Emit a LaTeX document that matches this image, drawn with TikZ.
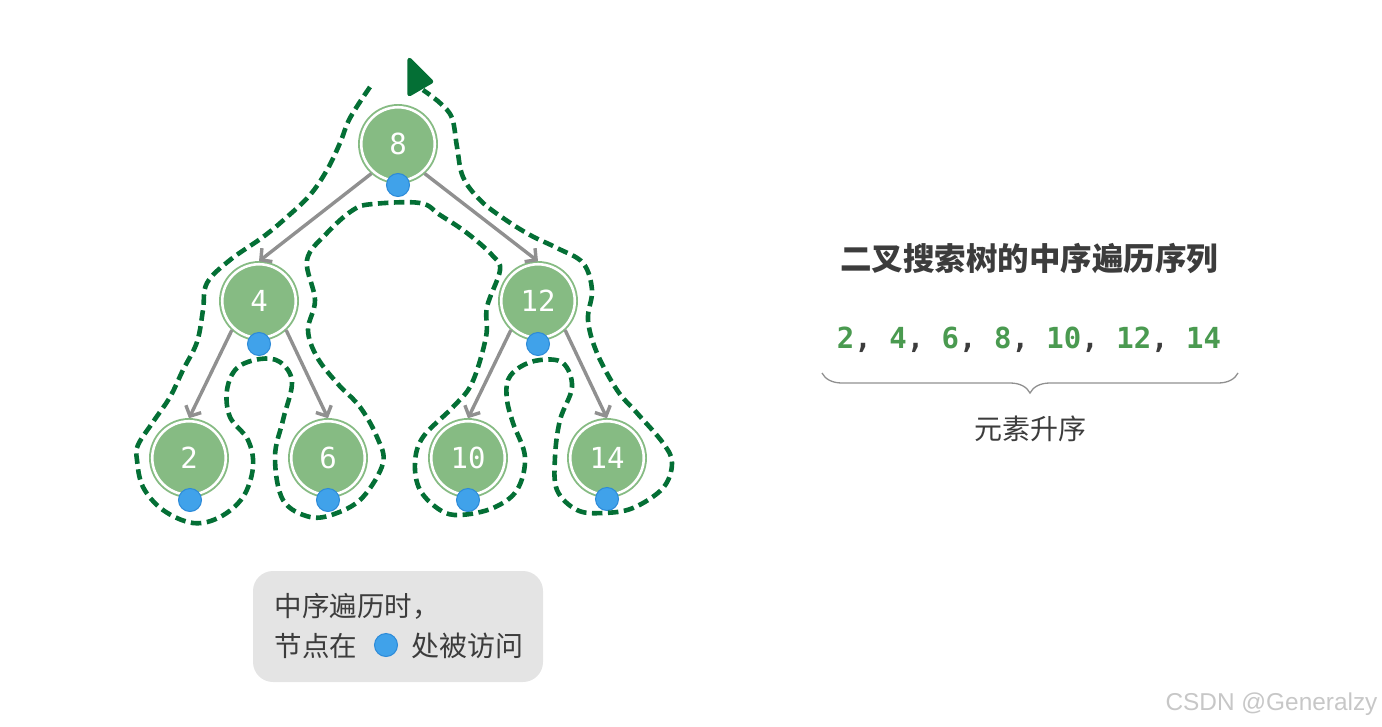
\documentclass[tikz,border=0pt]{standalone}
\usepackage{fontspec}
\setmainfont{Liberation Sans}
\setmonofont{DejaVu Sans Mono}
\newfontfamily\cjk{Noto Sans CJK SC}
\usetikzlibrary{arrows.meta,decorations.pathreplacing}
\definecolor{treefill}{HTML}{86BB83}
\definecolor{treering}{HTML}{86BB83}
\definecolor{walkgreen}{HTML}{046F35}
\definecolor{edgegray}{HTML}{909090}
\definecolor{dotblue}{HTML}{40A2EA}
\definecolor{dotline}{HTML}{2C8AD8}
\definecolor{textgray}{HTML}{3C3C3C}
\definecolor{seqgreen}{HTML}{4A9A50}
\definecolor{boxgray}{HTML}{E4E4E4}
\tikzset{
  treenode/.style={circle,fill=treefill,draw=treering,double=white,double distance=2.6pt,line width=1.9pt,
    minimum size=73.5pt,inner sep=0pt,outer sep=3pt,text=white,font=\ttfamily\fontsize{29}{30}\selectfont},
  visitdot/.style={circle,fill=dotblue,draw=dotline,line width=1pt,minimum size=23pt,inner sep=0pt},
  treeedge/.style={draw=edgegray,line width=3.4pt,-{Straight Barb[length=8pt,width=17pt]}},
  walkline/.style={draw=walkgreen,line width=4.6pt,dash pattern=on 10.5pt off 5.5pt},
  label/.style={text=textgray,inner sep=0pt}
}
\newcommand{\sq}[1]{\textcolor{seqgreen}{#1}}
\begin{document}
\begin{tikzpicture}[x=1pt,y=-1pt]
  \useasboundingbox (0,0) rectangle (1382,726);
  % tree
  \node[treenode] (n8) at (398,144) {8};
  \node[treenode] (n4) at (259,301) {4};
  \node[treenode] (n12) at (538,301) {12};
  \node[treenode] (n2) at (189,458) {2};
  \node[treenode] (n6) at (328,458) {6};
  \node[treenode] (n10) at (468,458) {10};
  \node[treenode] (n14) at (607,458) {14};
  \draw[treeedge] (n8.-132) -- (n4.north);
  \draw[treeedge] (n8.-48) -- (n12.north);
  \draw[treeedge] (n4.-133) -- (n2.north);
  \draw[treeedge] (n4.-47) -- (n6.north);
  \draw[treeedge] (n12.-133) -- (n10.north);
  \draw[treeedge] (n12.-47) -- (n14.north);
  \node[visitdot] (d8) at (398,185) {};
  \node[visitdot] (d4) at (259,344) {};
  \node[visitdot] (d12) at (538,344) {};
  \node[visitdot] (d2) at (190,500) {};
  \node[visitdot] (d6) at (328,500) {};
  \node[visitdot] (d10) at (468,500) {};
  \node[visitdot] (d14) at (607,499) {};
  % walk round the tree
  \draw[walkline,smooth,tension=.6] plot coordinates {(370,87) (350,118) (340,143) (327,170) (310,195) (287,217)
    (263,237) (230,260) (207,283) (203,310) (197,342) (183,370) (170,397) (153,422) (138,445) (137,460)
    (143,487) (163,510) (193,523) (220,517) (243,497) (253,467) (248,440) (230,417) (227,390) (237,368)
    (260,359) (280,362) (292,382) (283,420) (275,457) (283,500) (310,517) (337,513) (363,497) (383,463)
    (377,437) (360,407) (337,383) (317,357) (308,330) (315,300) (307,260) (327,233) (353,210) (373,204)
    (420,203) (440,215) (467,233) (492,255) (500,270) (487,307) (486,337) (472,383) (453,407) (423,437)
    (415,463) (420,490) (440,510) (460,515) (493,508) (517,490) (525,457) (513,423) (507,400) (508,380)
    (520,367) (540,360) (563,363) (572,387) (560,420) (555,457) (557,490) (577,510) (603,513) (633,508)
    (663,488) (672,463) (663,443) (637,413) (617,390) (597,353) (588,320) (592,290) (583,263) (557,248)
    (530,235) (503,218) (480,200) (463,177) (457,147) (452,118) (440,103) (423,90)};
  \draw[fill=walkgreen,draw=walkgreen,line width=4.5pt,line join=round] (409.5,60) -- (431,81.5) -- (409.5,94) -- cycle;
  % right side
  \node[label,font=\cjk\bfseries\fontsize{31.5}{34}\selectfont] (title) at (1029,259) {二叉搜索树的中序遍历序列};
  \node[label,font=\ttfamily\bfseries\fontsize{29}{32}\selectfont] (seq) at (1029,339.5)
    {\sq{2}, \sq{4}, \sq{6}, \sq{8}, \sq{10}, \sq{12}, \sq{14}};
  \coordinate (bl) at (822,373);
  \coordinate (br) at (1238,373);
  \draw[edgegray,line width=1.3pt,decorate,decoration={brace,mirror,amplitude=20pt,aspect=.5}] (bl) -- (br);
  \node[label,font=\cjk\fontsize{28}{30}\selectfont] (asc) at (1030,429) {元素升序};
  % note
  \node[fill=boxgray,rounded corners=20pt,minimum width=290pt,minimum height=111pt,inner sep=0pt] (box) at (398,626.5) {};
  \node[label,anchor=west,font=\cjk\fontsize{27.5}{30}\selectfont] (line1) at (274.5,606) {中序遍历时，};
  \node[label,anchor=west,font=\cjk\fontsize{27.5}{30}\selectfont] (line2) at (274.5,646) {节点在};
  \node[visitdot] (dkey) at (386,645) {};
  \node[label,anchor=west,font=\cjk\fontsize{28}{30}\selectfont] (line3) at (411.5,646) {处被访问};
  \node[text=black!22,inner sep=0pt,font=\fontsize{24.4}{26}\selectfont] (mark) at (1271.5,704.5) {CSDN @Generalzy};
\end{tikzpicture}
\end{document}
